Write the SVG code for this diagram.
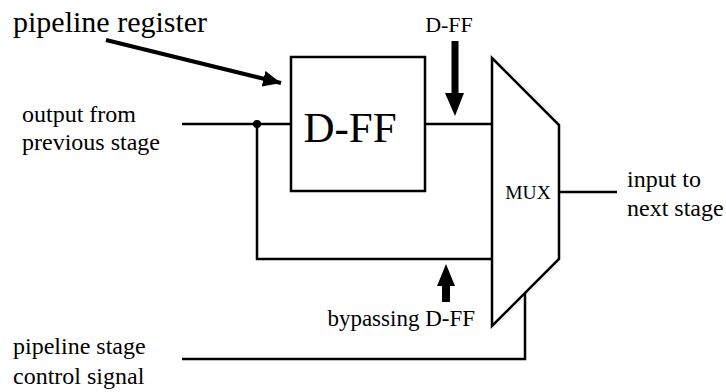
<svg xmlns="http://www.w3.org/2000/svg" width="726" height="392" viewBox="0 0 726 392">
<style>
text{font-family:"Liberation Serif","Times New Roman",serif;fill:#000}
.w{fill:none;stroke:#000;stroke-width:2.5;stroke-linejoin:miter;stroke-linecap:butt}
.b{fill:#fff;stroke:#000;stroke-width:2.5}
.ar{fill:#000;stroke:none}
</style>
<defs>
<marker id="ah" markerUnits="userSpaceOnUse" markerWidth="20" markerHeight="16" refX="18" refY="8" orient="auto">
<path d="M0,0 L18,8 L0,16 Z" fill="#000"/>
</marker>
</defs>
<rect width="726" height="392" fill="#fff"/>
<g id="connectors">
<path class="w" d="M182,124 H291"/>
<path class="w" d="M425,124 H492"/>
<path class="w" d="M257,124 V259 H492"/>
<path class="w" d="M559,192 H617"/>
<path class="w" d="M182,359 H525 V293"/>
<circle cx="257" cy="124" r="4" fill="#000"/>
<line x1="106" y1="40" x2="281" y2="83" stroke="#000" stroke-width="4" marker-end="url(#ah)"/>
</g>
<g id="dff">
<rect class="b" x="291" y="57" width="134" height="134"/>
<text x="350" y="141.5" font-size="43" text-anchor="middle">D-FF</text>
</g>
<g id="mux">
<path class="b" d="M492,58 L559,125 V259 L492,326 Z"/>
<text x="528" y="199" font-size="19.5" text-anchor="middle">MUX</text>
</g>
<g id="arrow-dff">
<path class="ar" d="M451.5,41 H458.5 V93 H464 L455,116 L445,93 H451.5 Z"/>
<text x="449" y="32" font-size="22" text-anchor="middle">D-FF</text>
</g>
<g id="arrow-bypass">
<path class="ar" d="M442,302 H450 V286 H455 L446,264 L437,286 H442 Z"/>
<text x="475" y="326" font-size="23" text-anchor="end">bypassing D-FF</text>
</g>
<g id="labels">
<text x="13" y="32" font-size="30">pipeline register</text>
<text x="22" y="121.5" font-size="24">output from</text>
<text x="22" y="150" font-size="24">previous stage</text>
<text x="627" y="187" font-size="24">input to</text>
<text x="627" y="216" font-size="24">next stage</text>
<text x="13" y="354" font-size="24">pipeline stage</text>
<text x="13" y="384" font-size="24">control signal</text>
</g>
</svg>
